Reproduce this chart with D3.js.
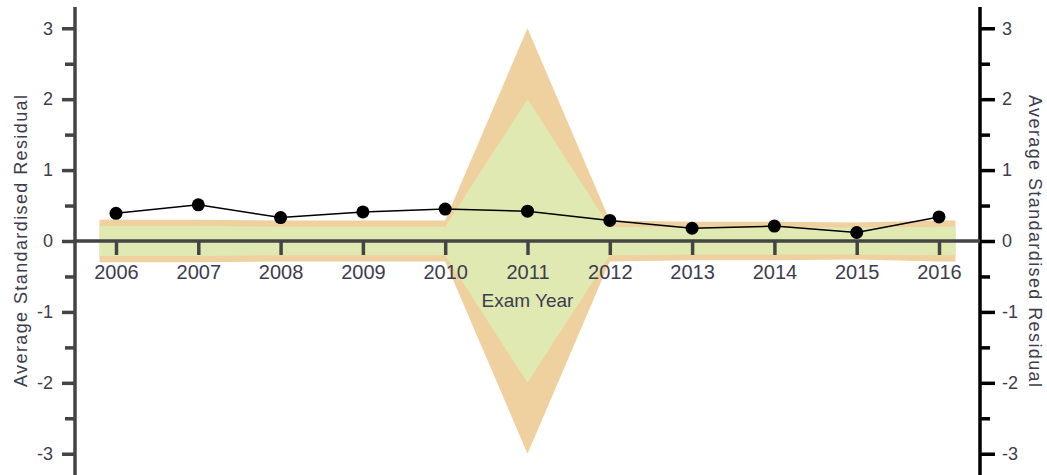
<!DOCTYPE html>
<html>
<head>
<meta charset="utf-8">
<script src="https://cdn.jsdelivr.net/npm/d3@7"></script>
<style>
  body { margin: 0; background: #fff; }
  text { font-family: "Liberation Sans", Arial, sans-serif; fill: #3d3d4f; }
</style>
</head>
<body>
<div id="chart"></div>
<script>
var years = [2006, 2007, 2008, 2009, 2010, 2011, 2012, 2013, 2014, 2015, 2016]
var residuals = [0.39, 0.51, 0.33, 0.41, 0.45, 0.42, 0.29, 0.18, 0.21, 0.12, 0.34]
// control limits: inner (green) and outer (orange)
var innerLimit = [0.21, 0.21, 0.20, 0.20, 0.20, 2.0, 0.20, 0.19, 0.19, 0.19, 0.20]
var outerLimit = [0.30, 0.30, 0.29, 0.29, 0.29, 3.0, 0.29, 0.27, 0.27, 0.26, 0.29]
var majorTicks = [-3, -2, -1, 0, 1, 2, 3]
var minorTicks = [-2.5, -1.5, -0.5, 0.5, 1.5, 2.5]
var yTitle = 'Average Standardised Residual'
var xTitle = 'Exam Year'

var fullWidth = 1047
var fullHeight = 475
var axisLeftX = 75
var axisRightX = 980

var x = d3.scaleLinear().domain([2006, 2016]).range([116, 939])
var y = d3.scaleLinear().domain([-3.3, 3.3]).range([475, 7])

// plain hyphen for negatives, like the original
var fmt = function(d) { return String(d) }

var svg = d3.select('#chart')
  .append('svg')
    .attr('width', fullWidth)
    .attr('height', fullHeight)

// band data, padded 0.2 year beyond the first and last point
var band = years.map(function(yr, i) {
  return {x: yr, inner: innerLimit[i], outer: outerLimit[i]}
})
band.unshift({x: years[0] - 0.2, inner: innerLimit[0], outer: outerLimit[0]})
band.push({x: years[years.length-1] + 0.2, inner: innerLimit[years.length-1], outer: outerLimit[years.length-1]})

var outerArea = d3.area()
  .x(function(d) { return x(d.x) })
  .y0(function(d) { return y(-d.outer) })
  .y1(function(d) { return y(d.outer) })

var innerArea = d3.area()
  .x(function(d) { return x(d.x) })
  .y0(function(d) { return y(-d.inner) })
  .y1(function(d) { return y(d.inner) })

svg.append('path').datum(band).attr('d', outerArea).attr('fill', '#efd09f')
svg.append('path').datum(band).attr('d', innerArea).attr('fill', '#e1e9b2')

function styleAxis(g, color) {
  g.select('.domain').remove()
  g.selectAll('line').attr('stroke', color).attr('stroke-width', 3.5)
  g.selectAll('text').attr('font-size', 18).attr('fill', '#3d3d4f')
    .style('font-family', '"Liberation Sans", Arial, sans-serif')
}

// left axis
var leftG = svg.append('g').attr('transform', 'translate(' + axisLeftX + ',0)')
leftG.append('g')
  .call(d3.axisLeft(y).tickValues(majorTicks).tickSize(13).tickPadding(9).tickFormat(fmt))
  .call(styleAxis, '#444')
leftG.append('g')
  .call(d3.axisLeft(y).tickValues(minorTicks).tickSize(10).tickFormat(''))
  .call(styleAxis, '#444')
leftG.append('line')
  .attr('x1', 0).attr('x2', 0).attr('y1', y.range()[1]).attr('y2', y.range()[0])
  .attr('stroke', '#444').attr('stroke-width', 3.5)

// right axis
var rightG = svg.append('g').attr('transform', 'translate(' + axisRightX + ',0)')
rightG.append('g')
  .call(d3.axisRight(y).tickValues(majorTicks).tickSize(15).tickPadding(7).tickFormat(fmt))
  .call(styleAxis, '#000')
rightG.append('g')
  .call(d3.axisRight(y).tickValues(minorTicks).tickSize(10).tickFormat(''))
  .call(styleAxis, '#000')
rightG.append('line')
  .attr('x1', 0).attr('x2', 0).attr('y1', y.range()[1]).attr('y2', y.range()[0])
  .attr('stroke', '#000').attr('stroke-width', 3.5)

// x axis along zero
var xG = svg.append('g').attr('transform', 'translate(0,' + y(0) + ')')
xG.append('g')
  .call(d3.axisBottom(x).tickValues(years).tickSize(14).tickPadding(10).tickFormat(fmt))
  .call(styleAxis, '#444')
xG.selectAll('text').attr('font-size', 20)
xG.append('line')
  .attr('x1', axisLeftX).attr('x2', axisRightX)
  .attr('stroke', '#444').attr('stroke-width', 3.5)

svg.append('text')
  .attr('x', x(2011)).attr('y', y(0) + 66)
  .attr('text-anchor', 'middle')
  .attr('font-size', 19)
  .text(xTitle)

svg.append('text')
  .attr('transform', 'translate(27,' + y(0) + ') rotate(-90)')
  .attr('text-anchor', 'middle')
  .attr('font-size', 18)
  .attr('textLength', 292)
  .attr('lengthAdjust', 'spacing')
  .text(yTitle)

svg.append('text')
  .attr('transform', 'translate(1029,' + y(0) + ') rotate(90)')
  .attr('text-anchor', 'middle')
  .attr('font-size', 18)
  .attr('textLength', 292)
  .attr('lengthAdjust', 'spacing')
  .text(yTitle)

// residual line and points
var line = d3.line()
  .x(function(d, i) { return x(years[i]) })
  .y(function(d) { return y(d) })

svg.append('path')
  .datum(residuals)
  .attr('d', line)
  .attr('fill', 'none')
  .attr('stroke', '#000')
  .attr('stroke-width', 1.5)

svg.selectAll('.dot')
  .data(residuals)
  .enter().append('circle')
    .attr('class', 'dot')
    .attr('cx', function(d, i) { return x(years[i]) })
    .attr('cy', function(d) { return y(d) })
    .attr('r', 6.5)
    .attr('fill', '#000')
</script>
</body>
</html>
